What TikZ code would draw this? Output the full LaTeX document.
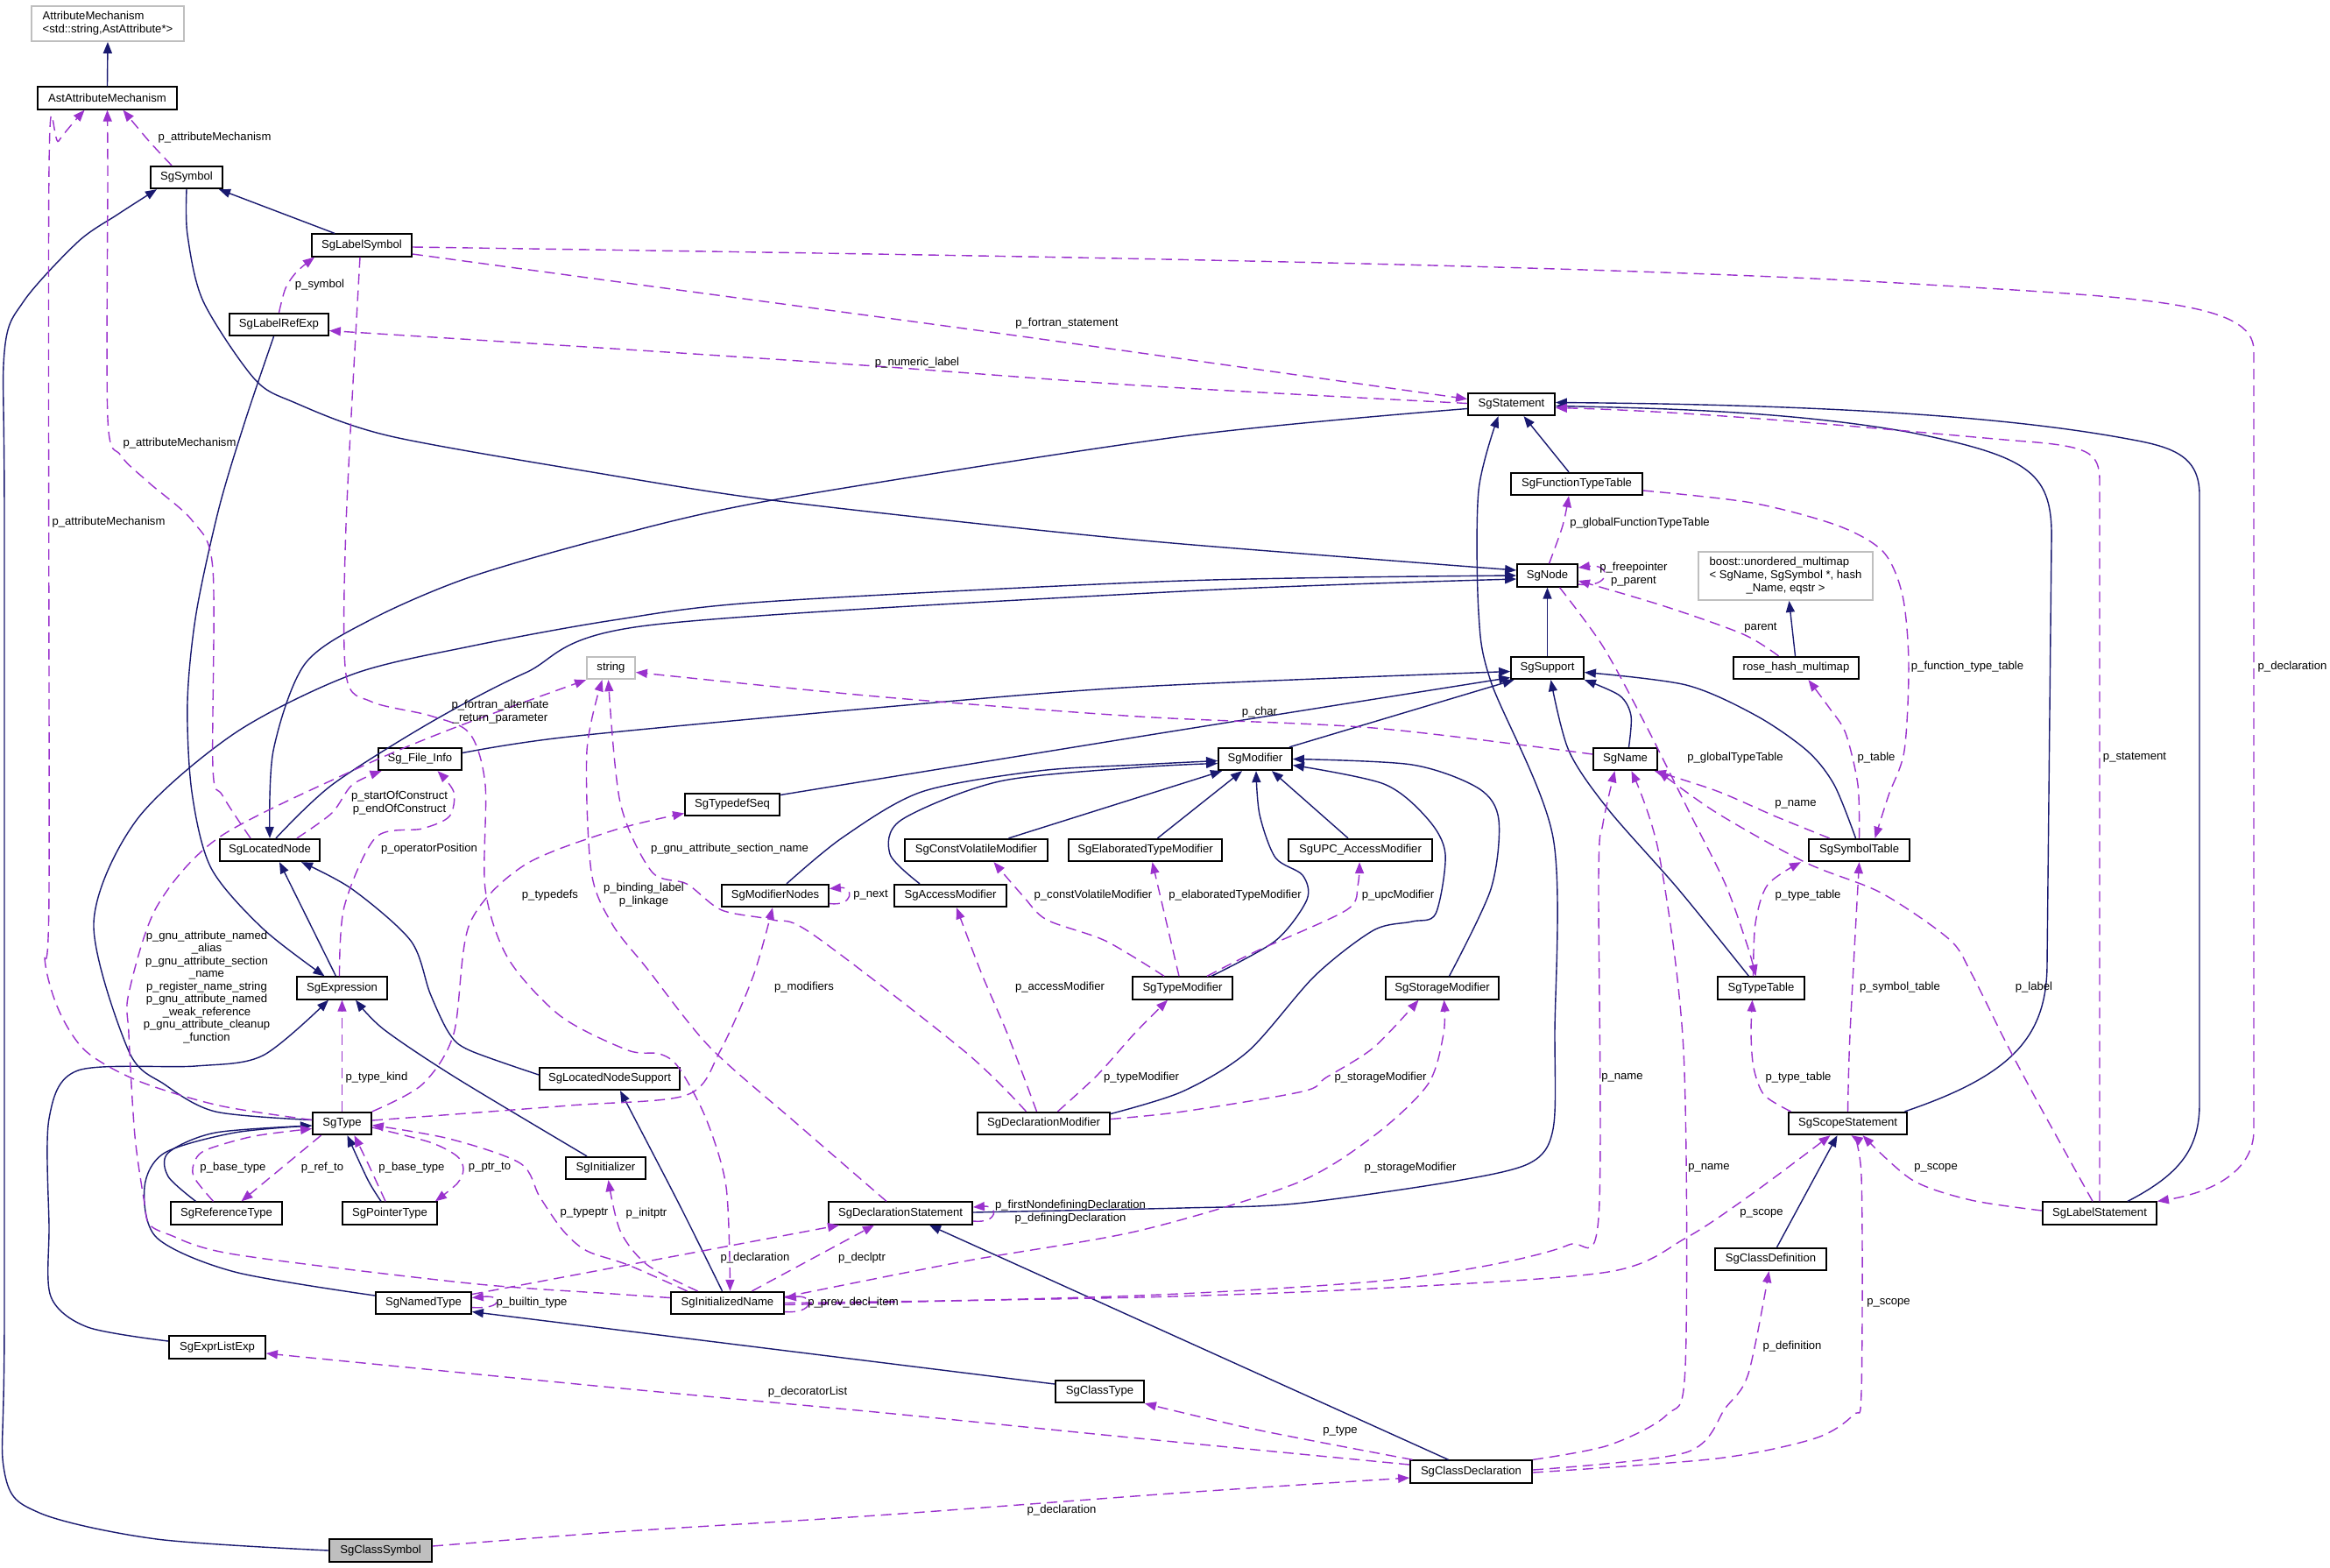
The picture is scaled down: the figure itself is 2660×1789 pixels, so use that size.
\documentclass[tikz,border=0pt]{standalone}
\usepackage{fontspec}
\setmainfont{Liberation Sans}
\usetikzlibrary{arrows.meta}
\definecolor{navy}{RGB}{25,25,112}
\definecolor{orchid}{RGB}{154,50,205}
\definecolor{gbord}{RGB}{191,191,191}
\definecolor{gfill}{RGB}{191,191,191}
\newcommand{\lblfont}{\fontsize{13.1pt}{15pt}\selectfont}
\tikzset{
  box/.style={draw=black, line width=1.8pt, fill=white, inner sep=0pt, minimum height=25.5pt, font=\lblfont},
  gbox/.style={box, draw=gbord},
  lab/.style={font=\lblfont, inner sep=0pt, align=center},
  inh/.style={draw=navy, line width=1.4pt, -{Triangle[length=13pt,width=10pt]}},
  ptr/.style={draw=orchid, line width=1.4pt, dash pattern=on 12pt off 7pt, -{Triangle[length=13pt,width=10pt]}},
}
\begin{document}
\begin{tikzpicture}[x=1pt,y=-1pt]
\fill[white] (0,0) rectangle (2660,1789);
\useasboundingbox (0,0) rectangle (2660,1789);
% ---------------- nodes
\node[gbox, minimum width=174pt, minimum height=40pt, align=left] (am) at (123,27) {AttributeMechanism\\<std::string,AstAttribute*>};
\node[box, minimum width=159pt] (aam) at (122.5,112) {AstAttributeMechanism};
\node[box, minimum width=82pt] (sym) at (213,202.5) {SgSymbol};
\node[box, minimum width=114pt] (lsym) at (413,280) {SgLabelSymbol};
\node[box, minimum width=113pt] (lref) at (318.5,370.5) {SgLabelRefExp};
\node[box, minimum width=99pt] (stmt) at (1725.5,461.5) {SgStatement};
\node[box, minimum width=150pt] (ftt) at (1800,552.5) {SgFunctionTypeTable};
\node[box, minimum width=69pt] (sgnode) at (1766.5,657) {SgNode};
\node[gbox, minimum width=199pt, minimum height=55pt] (boost) at (2038.5,657.5) {\begin{tabular}{@{}l@{}}boost::unordered\_multimap\\< SgName, SgSymbol *, hash\\\multicolumn{1}{@{}c@{}}{\_Name, eqstr >}\end{tabular}};
\node[box, minimum width=143pt] (rhm) at (2050.5,762.5) {rose\_hash\_multimap};
\node[box, minimum width=83pt] (sup) at (1766.5,762.5) {SgSupport};
\node[gbox, minimum width=55pt] (str) at (697.5,762.5) {string};
\node[box, minimum width=95pt] (fi) at (479.5,866.5) {Sg\_File\_Info};
\node[box, minimum width=73pt] (name) at (1855.5,866.5) {SgName};
\node[box, minimum width=84pt] (mod) at (1433,866.5) {SgModifier};
\node[box, minimum width=108pt] (tds) at (836,918.5) {SgTypedefSeq};
\node[box, minimum width=114pt] (ln) at (308,970.5) {SgLocatedNode};
\node[box, minimum width=163pt] (cvm) at (1114.5,970.5) {SgConstVolatileModifier};
\node[box, minimum width=175pt] (etm) at (1307.5,970.5) {SgElaboratedTypeModifier};
\node[box, minimum width=164pt] (upc) at (1553,970.5) {SgUPC\_AccessModifier};
\node[box, minimum width=115pt] (symt) at (2122.5,970.5) {SgSymbolTable};
\node[box, minimum width=122pt] (mn) at (885,1022.5) {SgModifierNodes};
\node[box, minimum width=128pt] (acm) at (1085,1022.5) {SgAccessModifier};
\node[box, minimum width=103pt] (expr) at (390.5,1128) {SgExpression};
\node[box, minimum width=114pt] (tm) at (1350,1128) {SgTypeModifier};
\node[box, minimum width=129pt] (stm) at (1646.5,1128) {SgStorageModifier};
\node[box, minimum width=99pt] (tt) at (2010.5,1128) {SgTypeTable};
\node[box, minimum width=160pt] (lns) at (696,1231.5) {SgLocatedNodeSupport};
\node[box, minimum width=151pt] (dm) at (1191.5,1282.5) {SgDeclarationModifier};
\node[box, minimum width=135pt] (ss) at (2109.5,1282.5) {SgScopeStatement};
\node[box, minimum width=67pt] (type) at (390.5,1282.5) {SgType};
\node[box, minimum width=91pt] (init) at (691.5,1333.5) {SgInitializer};
\node[box, minimum width=127pt] (rt) at (258.5,1385) {SgReferenceType};
\node[box, minimum width=108pt] (pt) at (445,1385) {SgPointerType};
\node[box, minimum width=164pt] (ds) at (1028,1385) {SgDeclarationStatement};
\node[box, minimum width=130pt] (ls) at (2397,1385) {SgLabelStatement};
\node[box, minimum width=127pt] (cd) at (2021.5,1437.5) {SgClassDefinition};
\node[box, minimum width=109pt] (nt) at (483.5,1487.5) {SgNamedType};
\node[box, minimum width=129pt] (inm) at (830.5,1487.5) {SgInitializedName};
\node[box, minimum width=110pt] (ele) at (248,1538) {SgExprListExp};
\node[box, minimum width=101pt] (ct) at (1255.5,1588.5) {SgClassType};
\node[box, minimum width=139pt] (cdecl) at (1679.5,1680) {SgClassDeclaration};
\node[box, fill=gfill, minimum width=117pt] (cs) at (434.5,1770) {SgClassSymbol};
% ---------------- inheritance edges
\draw[inh] (aam.north) -- (am.south);
\draw[inh] ([xshift=-31pt]lsym.north) -- ([xshift=37pt]sym.south);
\draw[inh] plot[smooth] coordinates {(cs.west) (179,1757) (45,1727) (5,1680) (5,1500) (5,600) (5,402) (27,344) (89,276) (134,245) ([xshift=-34pt]sym.south)};
\draw[inh] plot[smooth] coordinates {(sym.south) (214,268) (232,344) (290,432) (335,459) (446,498) (700,543) (873,570) (1137,600) (1350,621) ([yshift=6pt]sgnode.west)};
\draw[inh] plot[smooth] coordinates {([xshift=-6pt]lref.south) (280,480) (250,580) (224,700) (214,801) (219,904) (241,991) (300,1060) ([xshift=-20pt]expr.north)};
\draw[inh] plot[smooth] coordinates {([yshift=-5pt]stmt.west) (1350,498) (887,570) (700,612) (536,659) (424,707) (348,758) (312,857) (ln.north)};
\draw[inh] plot[smooth] coordinates {([xshift=7pt]ln.north) (379,896) (491,825) (600,768) (739,714) (1350,675) ([yshift=-4pt]sgnode.west)};
\draw[inh] plot[smooth] coordinates {([yshift=4pt]type.west) (246,1269) (188,1238) (147,1200) (107,1054) (156,936) (268,837) (402,770) (536,738) (700,708) (873,687) (1350,663) (sgnode.west)};
\draw[inh] (sup.north) -- (sgnode.south);
\draw[inh] plot[smooth] coordinates {([yshift=7pt]fi.east) (650,841) (1000,808) (1300,784) ([yshift=-4pt]sup.west)};
\draw[inh] plot[smooth] coordinates {([yshift=11pt]tds.east) (1300,841) ([yshift=-11pt]sup.west)};
\draw[inh] ([xshift=39pt]mod.north) -- ([xshift=-38pt]sup.south);
\draw[inh] plot[smooth] coordinates {([xshift=4pt]name.north) (1862,817) (1849,794) (sup.south east)};
\draw[inh] plot[smooth] coordinates {([xshift=-4pt]symt.north) (2094,896) (2063,857) (2005,817) (1925,782) ([yshift=-5pt]sup.east)};
\draw[inh] plot[smooth] coordinates {([xshift=-14pt]tt.north) (1916,1015) (1836,924) (1791,857) ([xshift=4pt]sup.south)};
\draw[inh] ([xshift=-1pt]rhm.north) -- ([xshift=4pt]boost.south);
\draw[inh] plot[smooth] coordinates {([xshift=13pt]mn.north) (962,956) (1052,904) (1186,880) (1300,873) ([yshift=-2pt]mod.west)};
\draw[inh] plot[smooth] coordinates {([xshift=-35pt]acm.north) (1016,975) (1029,936) (1141,892) (1300,876) ([yshift=-5pt]mod.west)};
\draw[inh] ([xshift=37pt]cvm.north) -- ([xshift=-38pt]mod.south);
\draw[inh] ([xshift=14pt]etm.north) -- ([xshift=-15pt]mod.south);
\draw[inh] ([xshift=-14pt]upc.north) -- ([xshift=19pt]mod.south);
\draw[inh] plot[smooth] coordinates {([xshift=33pt]tm.north) (1456,1074) (1492,1027) (1487,999) (1456,979) (1438,930) ([xshift=1pt]mod.south)};
\draw[inh] plot[smooth] coordinates {([yshift=11pt]dm.east) (1350,1246) (1425,1200) (1501,1114) (1568,1062) (1612,1052) (1639,1043) (1650,975) (1630,935) (1580,895) ([yshift=-7pt]mod.east)};
\draw[inh] plot[smooth] coordinates {([xshift=8pt]stm.north) (1702,1015) (1711,936) (1688,900) (1612,873) (mod.east)};
\draw[inh] ([xshift=-7pt]expr.north) -- ([xshift=11pt]ln.south);
\draw[inh] plot[smooth] coordinates {([yshift=4.5pt]lns.west) (536,1199) (513,1180) (491,1134) (469,1074) (402,1015) ([xshift=36pt]ln.south)};
\draw[inh] plot[smooth] coordinates {([xshift=-21.5pt]init.north) (520,1230) (438,1175) ([xshift=15.5pt]expr.south)};
\draw[inh] plot[smooth] coordinates {([yshift=7pt]ele.west) (100,1515) (58,1480) (56,1400) (56,1277) (89,1222) (223,1217) (300,1205) ([xshift=-15.5pt]expr.south)};
\draw[inh] plot[smooth] coordinates {([xshift=-35pt]rt.north) (192,1343) (192,1316) (246,1293) ([yshift=-2.5pt]type.west)};
\draw[inh] plot[smooth] coordinates {([xshift=-10pt]pt.north) (420,1347) ([xshift=6pt]type.south)};
\draw[inh] plot[smooth] coordinates {([yshift=8.5pt]nt.west) (268,1452) (179,1413) (165,1355) (188,1316) (268,1293) ([yshift=-2.5pt]type.west)};
\draw[inh] ([yshift=8.5pt]ct.west) -- ([yshift=-10pt]nt.east);
\draw[inh] plot[smooth] coordinates {([xshift=-6pt]inm.north) (775,1374) ([xshift=12pt]lns.south)};
\draw[inh] ([xshift=-26pt]cdecl.north) -- ([xshift=33pt]ds.south);
\draw[inh] plot[smooth] coordinates {([yshift=1pt]ds.east) (1350,1379) (1479,1374) (1657,1349) (1746,1328) (1773,1289) (1775,1180) (1773,956) (1702,778) (1688,699) (1688,560) ([xshift=-15pt]stmt.south)};
\draw[inh] ([xshift=-9pt]ftt.north) -- ([xshift=14pt]stmt.south);
\draw[inh] ([xshift=65pt]ss.north) .. controls (2295,1228) and (2337,1185) .. (2337,1100) -- (2342,620) .. controls (2344,540) and (2320,522) .. (2183,494) .. controls (2050,470) and (1900,466) .. ([yshift=-2pt]stmt.east);
\draw[inh] ([xshift=32pt]ls.north) .. controls (2490,1340) and (2511,1310) .. (2511,1260) -- (2511,565) .. controls (2511,520) and (2480,510) .. (2429,501) .. controls (2300,477) and (2100,462) .. ([yshift=2pt]stmt.east);
\draw[inh] ([xshift=7pt]cd.north) -- ([xshift=-12pt]ss.south);
% ---------------- member pointer edges
\draw[ptr] plot[smooth] coordinates {([xshift=-17pt]sym.north) (170,161) ([xshift=18pt]aam.south)};
\draw[ptr] plot[smooth] coordinates {([xshift=-22pt]ln.north) (254,908) (243,876) (243,650) (220,595) (170,551) (138,520) (123,478) (123,200) (aam.south)};
\draw[ptr] plot[smooth] coordinates {([yshift=4pt]type.west) (250,1262) (158,1234) (98,1200) (67,1153) (51,1094) (56,1015) (56,191) (67,161) ([xshift=-26pt]aam.south)};
\draw[ptr] plot[smooth] coordinates {(lref.north) (326,329) (339,310) ([xshift=-54pt]lsym.south)};
\draw[ptr] plot[smooth] coordinates {([yshift=-10pt]lsym.east) (700,321) (1159,383) ([yshift=6pt]stmt.west)};
\draw[ptr] plot[smooth] coordinates {([yshift=1pt]stmt.west) (1300,440) (1000,418) (700,398) ([yshift=-7pt]lref.east)};
\draw[ptr] ([yshift=-2pt]lsym.east) .. controls (1000,290) and (1800,300) .. (2200,325) .. controls (2450,340) and (2573,345) .. (2573,400) -- (2573,1290) .. controls (2573,1340) and (2520,1362) .. (ls.north east);
\draw[ptr] (ls.north) -- (2397,550) .. controls (2397,515) and (2385,509) .. (2300,503) .. controls (2150,490) and (1950,470) .. ([yshift=-4pt]stmt.east);
\draw[ptr] plot[smooth] coordinates {([yshift=-7.5pt]ftt.east) (2000,574) (2098,600) (2150,630) (2172,680) (2179,758) (2174,857) (2156,908) ([xshift=18pt]symt.north)};
\draw[ptr] plot[smooth] coordinates {([xshift=2pt]sgnode.north) (1784,600) ([xshift=-9pt]ftt.south)};
\draw[ptr] ([yshift=-10pt]sgnode.east) .. controls (1840,672) and (1840,643) .. ([yshift=9pt]sgnode.east);
\draw[ptr] plot[smooth] coordinates {([xshift=-20pt]rhm.north) (1990,724) (1900,692) ([yshift=-6pt]sgnode.east)};
\draw[ptr] plot[smooth] coordinates {([xshift=14pt]sgnode.south) (1830,738) (1880,830) (1930,930) (1970,1010) (1995,1080) ([xshift=-6pt]tt.north)};
\draw[ptr] plot[smooth] coordinates {([yshift=5.5pt]name.west) (1568,831) (1300,818) (1000,795) ([yshift=-5pt]str.east)};
\draw[ptr] plot[smooth] coordinates {([xshift=-34pt]symt.north) (2027,932) (1960,903) ([xshift=-4pt]name.south east)};
\draw[ptr] plot[smooth] coordinates {(symt.north) (2121,896) (2107,837) (2089,809) ([xshift=14pt]rhm.south)};
\draw[ptr] plot[smooth] coordinates {([xshift=-9pt]tt.north) (2004,1054) (2018,1010) ([xshift=-66.5pt]symt.south)};
\draw[ptr] plot[smooth] coordinates {([xshift=-8pt]ls.north) (2330,1265) (2290,1190) (2250,1110) (2225,1072) (2147,1019) (2062,985) (1960,928) (name.south east)};
\draw[ptr] plot[smooth] coordinates {(ss.north) (2112,1180) (symt.south)};
\draw[ptr] plot[smooth] coordinates {([xshift=-65pt]ss.north) (2014,1250) (2002,1219) (1999,1180) ([xshift=-10pt]tt.south)};
\draw[ptr] plot[smooth] coordinates {([yshift=3pt]ls.west) (2250,1370) (2183,1347) ([xshift=17pt]ss.south)};
\draw[ptr] plot[smooth] coordinates {(inm.east) (1300,1481) (1568,1471) (1836,1452) (1925,1413) (2000,1363) ([xshift=-20pt]ss.south)};
\draw[ptr] plot[smooth] coordinates {([yshift=-1pt]cdecl.east) (1960,1665) (2072,1642) (2116,1615) (2125,1588) (2125,1343) ([xshift=4pt]ss.south)};
\draw[ptr] plot[smooth] coordinates {([yshift=2pt]cdecl.east) (1925,1658) (1970,1607) (1996,1568) ([xshift=-2pt]cd.south)};
\draw[ptr] plot[smooth] coordinates {(cdecl.north east) (1836,1650) (1903,1615) (1924,1560) (1922,1200) (1894,975) ([xshift=7pt]name.south)};
\draw[ptr] plot[smooth] coordinates {([yshift=-2pt]inm.east) (1300,1479) (1568,1463) (1702,1444) (1791,1421) (1825,1390) (1825,1000) (1830,940) ([xshift=-12pt]name.south)};
\draw[ptr] plot[smooth] coordinates {([yshift=7pt]inm.east) (1100,1440) (1300,1405) (1479,1351) (1568,1297) (1630,1238) (1648,1180) ([xshift=2pt]stm.south)};
\draw[ptr] plot[smooth] coordinates {([yshift=5pt]dm.east) (1350,1269) (1487,1246) (1514,1230) (1568,1196) ([xshift=-27pt]stm.south)};
\draw[ptr] plot[smooth] coordinates {([xshift=16pt]dm.north) (1253,1227) (1295,1180) ([xshift=-17pt]tm.south)};
\draw[ptr] plot[smooth] coordinates {([xshift=-8pt]dm.north) (1150,1180) (1120,1110) ([xshift=7pt]acm.south)};
\draw[ptr] plot[smooth] coordinates {([xshift=-20pt]dm.north) (1101,1200) (927,1066) (882,1050) (824,1039) (784,1009) (744,995) (708,916) ([xshift=-3pt]str.south)};
\draw[ptr] plot[smooth] coordinates {([xshift=-16pt]ds.north) (910,1283) (810,1195) (739,1106) (699,1055) (675,995) (670,857) ([xshift=-10pt]str.south)};
\draw[ptr] plot[smooth] coordinates {(type.north east) (482,1238) (518,1180) (536,1055) (598,988) (700,948) ([yshift=-10pt]tds.west)};
\draw[ptr] plot[smooth] coordinates {([yshift=3.5pt]type.east) (650,1262) (784,1250) (822,1200) (860,1114) ([xshift=-3pt]mn.south)};
\draw[ptr] ([xshift=-24pt]type.south) -- ([xshift=17pt]rt.north);
\draw[ptr] plot[smooth] coordinates {([xshift=-15pt]rt.north) (221,1343) (223,1324) (237,1312) (290,1297) ([yshift=-6pt]type.west)};
\draw[ptr] plot[smooth] coordinates {([xshift=-5pt]pt.north) (420,1328) ([xshift=14pt]type.south)};
\draw[ptr] plot[smooth] coordinates {([yshift=-4.5pt]type.east) (491,1304) (522,1320) (529,1335) (522,1351) ([xshift=-3pt]pt.north east)};
\draw[ptr] (type.north) -- (expr.south);
\draw[ptr] plot[smooth] coordinates {([xshift=-3pt]expr.north) (393,1035) (429,956) (482,946) (513,932) (518,904) ([xshift=20pt]fi.south)};
\draw[ptr] plot[smooth] coordinates {([xshift=31pt]ln.north) (379,928) (402,896) ([xshift=-44pt]fi.south)};
\draw[ptr] plot[smooth] coordinates {([yshift=6pt]inm.west) (700,1477) (536,1465) (268,1432) (192,1409) (170,1397) (165,1374) (154,1297) (147,1180) (147,1134) (179,1035) (250,956) (402,880) (513,833) (str.south west)};
\draw[ptr] plot[smooth] coordinates {([xshift=-2pt]lsym.south) (395,600) (395,770) (424,801) (491,817) (536,837) (554,896) (554,1015) (580,1094) (640,1160) (717,1199) (753,1203) (775,1219) (806,1277) (829,1355) ([xshift=3pt]inm.north)};
\draw[ptr] ([yshift=10pt]nt.east) -- ([xshift=-70pt]ds.south);
\draw[ptr] ([xshift=28pt]inm.north) -- ([xshift=-30pt]ds.south);
\draw[ptr] ([yshift=-10pt]inm.east) .. controls (930,1500) and (930,1478) .. ([yshift=6pt]inm.east);
\draw[ptr] plot[smooth] coordinates {([xshift=-34pt]inm.north) (739,1444) (708,1405) ([xshift=3pt]init.south)};
\draw[ptr] plot[smooth] coordinates {([xshift=-46pt]inm.north) (717,1444) (670,1428) (643,1405) (616,1366) (594,1328) (513,1300) ([yshift=-2pt]type.east)};
\draw[ptr] ([yshift=-5pt]nt.east) .. controls (575,1495) and (575,1478) .. ([yshift=6pt]nt.east);
\draw[ptr] plot[smooth] coordinates {([yshift=8pt]cdecl.west) (1300,1642) (1000,1612) (700,1584) ([yshift=-7pt]ele.east)};
\draw[ptr] plot[smooth] coordinates {([xshift=-67pt]cdecl.north) (1434,1632) (ct.south east)};
\draw[ptr] plot[smooth] coordinates {([yshift=5pt]cs.east) (700,1749) (1000,1730) (1350,1704) ([yshift=-7pt]cdecl.west)};
\draw[ptr] ([yshift=-9pt]mn.east) .. controls (975,1035) and (975,1012) .. ([yshift=8pt]mn.east);
\draw[ptr] ([yshift=-9pt]ds.east) .. controls (1140,1397) and (1140,1376) .. ([yshift=7pt]ds.east);
\draw[ptr] plot[smooth] coordinates {([xshift=-21pt]tm.north) (1262,1074) (1195,1050) (1168,1023) ([xshift=20pt]cvm.south)};
\draw[ptr] ([xshift=-4pt]tm.north) -- ([xshift=8pt]etm.south);
\draw[ptr] plot[smooth] coordinates {([xshift=28pt]tm.north) (1434,1086) (1537,1039) (1550,1011) ([xshift=-1pt]upc.south)};
% ---------------- edge labels
\node[lab] (t1) at (245,157) {p\_attributeMechanism};
\node[lab] (t2) at (205,506) {p\_attributeMechanism};
\node[lab] (t3) at (124,596) {p\_attributeMechanism};
\node[lab] (t4) at (365,325) {p\_symbol};
\node[lab] (t5) at (1218,369) {p\_fortran\_statement};
\node[lab] (t6) at (1047,414) {p\_numeric\_label};
\node[lab] (t7) at (2617,761) {p\_declaration};
\node[lab] (t8) at (2437,865) {p\_statement};
\node[lab] (t9) at (2246,761) {p\_function\_type\_table};
\node[lab] (t10) at (1872,597) {p\_globalFunctionTypeTable};
\node[lab] (t11) at (1865,656) {p\_freepointer\\p\_parent};
\node[lab] (t12) at (2010,717) {parent};
\node[lab] (t13) at (1981,865) {p\_globalTypeTable};
\node[lab] (t14) at (1438,813) {p\_char};
\node[lab] (t15) at (2050,918) {p\_name};
\node[lab] (t16) at (2142,865) {p\_table};
\node[lab] (t17) at (2064,1022) {p\_type\_table};
\node[lab] (t18) at (2322,1127) {p\_label};
\node[lab] (t19) at (2169,1127) {p\_symbol\_table};
\node[lab] (t20) at (2053,1230) {p\_type\_table};
\node[lab] (t21) at (2210,1333) {p\_scope};
\node[lab] (t22) at (2011,1385) {p\_scope};
\node[lab] (t23) at (2156,1487) {p\_scope};
\node[lab] (t24) at (2046,1537) {p\_definition};
\node[lab] (t25) at (1951,1333) {p\_name};
\node[lab] (t26) at (1852,1230) {p\_name};
\node[lab] (t27) at (1610,1333) {p\_storageModifier};
\node[lab] (t28) at (1576,1230) {p\_storageModifier};
\node[lab] (t29) at (1303,1230) {p\_typeModifier};
\node[lab] (t30) at (1210,1127) {p\_accessModifier};
\node[lab] (t31) at (833,969) {p\_gnu\_attribute\_section\_name};
\node[lab] (t32) at (735,1022) {p\_binding\_label\\p\_linkage};
\node[lab] (t33) at (628,1022) {p\_typedefs};
\node[lab] (t34) at (918,1127) {p\_modifiers};
\node[lab] (t35) at (368,1333) {p\_ref\_to};
\node[lab] (t36) at (266,1333) {p\_base\_type};
\node[lab] (t37) at (470,1333) {p\_base\_type};
\node[lab] (t38) at (559,1333) {p\_ptr\_to};
\node[lab] (t39) at (430,1230) {p\_type\_kind};
\node[lab] (t40) at (490,969) {p\_operatorPosition};
\node[lab] (t41) at (456,917) {p\_startOfConstruct\\p\_endOfConstruct};
\node[lab, font=\fontsize{13.1pt}{14.5pt}\selectfont] (t42) at (236,1127) {p\_gnu\_attribute\_named\\\_alias\\p\_gnu\_attribute\_section\\\_name\\p\_register\_name\_string\\p\_gnu\_attribute\_named\\\_weak\_reference\\p\_gnu\_attribute\_cleanup\\\_function};
\node[lab] (t43) at (571,813) {p\_fortran\_alternate\\\_return\_parameter};
\node[lab] (t44) at (862,1436) {p\_declaration};
\node[lab] (t45) at (984,1436) {p\_declptr};
\node[lab] (t46) at (974,1487) {p\_prev\_decl\_item};
\node[lab] (t47) at (738,1385) {p\_initptr};
\node[lab] (t48) at (667,1385) {p\_typeptr};
\node[lab] (t49) at (607,1487) {p\_builtin\_type};
\node[lab] (t50) at (922,1589) {p\_decoratorList};
\node[lab] (t51) at (1530,1634) {p\_type};
\node[lab] (t52) at (1212,1724) {p\_declaration};
\node[lab] (t53) at (994,1022) {p\_next};
\node[lab] (t54) at (1222,1384) {p\_firstNondefiningDeclaration\\p\_definingDeclaration};
\node[lab] (t55) at (1248,1022) {p\_constVolatileModifier};
\node[lab] (t56) at (1410,1022) {p\_elaboratedTypeModifier};
\node[lab] (t57) at (1596,1022) {p\_upcModifier};
\end{tikzpicture}
\end{document}
